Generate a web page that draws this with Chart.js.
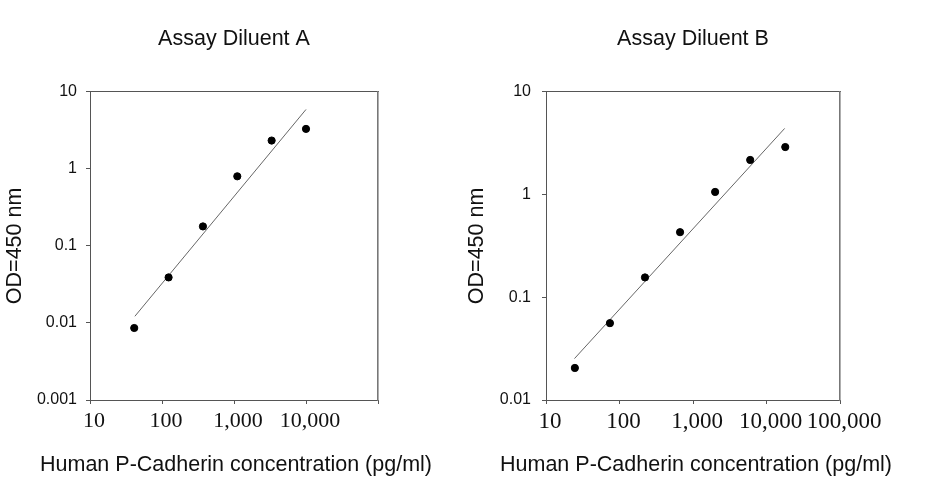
<!DOCTYPE html>
<html>
<head>
<meta charset="utf-8">
<script src="https://cdn.jsdelivr.net/npm/chart.js@4.4.1/dist/chart.umd.min.js"></script>
<style>
html,body{margin:0;padding:0;background:#fff;}
#wrap{position:relative;width:926px;height:480px;overflow:hidden;}
.box{position:absolute;top:0;height:480px;}
</style>
</head>
<body>
<div id="wrap">
  <div class="box" id="boxA" style="left:0;width:472px;"><canvas id="cA"></canvas></div>
  <div class="box" id="boxB" style="left:462px;width:468px;"><canvas id="cB"></canvas></div>
</div>
<script>
// ---- Data ----
const titleA = 'Assay Diluent A';
const titleB = 'Assay Diluent B';
const xTitle = 'Human P-Cadherin concentration (pg/ml)';
const yTitle = 'OD=450 nm';

const concA = [41.15, 123.5, 370.4, 1111, 3333, 10000];
const odA   = [0.0086, 0.039, 0.179, 0.80, 2.33, 3.3];
const fitXA = [42, 10000];
const fitYA = [0.0122, 5.9];

const concB = [24.7, 74.1, 222.2, 666.7, 2000, 6000, 18000];
const odB   = [0.0205, 0.056, 0.156, 0.43, 1.06, 2.17, 2.9];
const fitXB = [24.4, 17660];
const fitYB = [0.0253, 4.4];

const xTickValues = [10, 100, 1000, 10000, 100000];
const xTickLabelsA = ['10', '100', '1,000', '10,000', ''];
const xTickLabelsB = ['10', '100', '1,000', '10,000', '100,000'];
const yTickValuesA = [0.001, 0.01, 0.1, 1, 10];
const yTickLabelsA = ['0.001', '0.01', '0.1', '1', '10'];
const yTickValuesB = [0.01, 0.1, 1, 10];
const yTickLabelsB = ['0.01', '0.1', '1', '10'];

// ---- Chart builder ----
const SANS = "'Liberation Sans', Arial, sans-serif";
const SERIF = "'Liberation Serif', 'Times New Roman', serif";
const AXIS = '#555';

function pts(xs, ys){ return xs.map((x,i)=>({x:x, y:ys[i]})); }

function makeChart(id, cfg){
  const ctx = document.getElementById(id);
  return new Chart(ctx, {
    type: 'scatter',
    data: {
      datasets: [
        { data: pts(cfg.conc, cfg.od), backgroundColor:'#000', borderColor:'#000',
          pointRadius:3.6, pointHoverRadius:3.6, showLine:false, order:1 },
        { data: pts(cfg.fitX, cfg.fitY), borderColor:'#666', borderWidth:1,
          pointRadius:0, showLine:true, fill:false, order:2 }
      ]
    },
    options: {
      responsive:true, maintainAspectRatio:false, animation:false,
      layout:{ padding:0 },
      plugins:{
        legend:{display:false}, tooltip:{enabled:false},
        title:{ display:true, text:cfg.title, fullSize:false, color:'#111',
          font:{family:SANS, size:21.5, weight:'normal', lineHeight:1.2},
          padding:{top:26, bottom:40} },
        subtitle:{ display:true, position:'bottom', text:xTitle, fullSize:true, color:'#111',
          font:{family:SANS, size:21.5, weight:'normal', lineHeight:1.2},
          padding:{top:8, bottom:2} }
      },
      scales:{
        x:{ type:'logarithmic', position:'bottom', min:10, max:100000,
          afterBuildTicks:(s)=>{ s.ticks = xTickValues.map(v=>({value:v})); },
          afterFit:(s)=>{ s.height = 80 - 8 - 2 - 25.8; },
          grid:{ display:true, drawOnChartArea:false, drawTicks:true, tickLength:4, color:AXIS },
          border:{ display:true, color:AXIS, width:1 },
          ticks:{ autoSkip:false, maxRotation:0, padding:4, labelOffset:4, color:'#111',
            font:{family:SERIF, size:cfg.xTickSize},
            callback:(v)=>cfg.xLabels[xTickValues.indexOf(v)] ?? '' }
        },
        y:{ type:'logarithmic', position:'left', min:cfg.yMin, max:10,
          afterBuildTicks:(s)=>{ s.ticks = cfg.yValues.map(v=>({value:v})); },
          afterFit:(s)=>{ s.width = cfg.yWidth; },
          grid:{ display:true, drawOnChartArea:false, drawTicks:true, tickLength:4, color:AXIS },
          border:{ display:true, color:AXIS, width:1 },
          ticks:{ autoSkip:false, padding:cfg.yPad, color:'#111',
            font:{family:SANS, size:16},
            callback:(v)=>cfg.yLabels[cfg.yValues.indexOf(v)] ?? '' },
          title:{ display:true, text:yTitle, color:'#111',
            font:{family:SANS, size:21.5, lineHeight:1.2}, padding:{top:cfg.yTitlePad, bottom:0} }
        },
        x2:{ type:'logarithmic', position:'top', min:10, max:100000,
          grid:{display:false, drawTicks:false}, ticks:{display:false},
          border:{ display:true, color:AXIS, width:1 } },
        y2:{ type:'logarithmic', position:'right', min:cfg.yMin, max:10,
          afterFit:(s)=>{ s.width = cfg.padRight; },
          grid:{display:false, drawTicks:false}, ticks:{display:false},
          border:{ display:true, color:'#777', width:1.6 } }
      }
    }
  });
}

makeChart('cA', { title:titleA, conc:concA, od:odA, fitX:fitXA, fitY:fitYA,
  xLabels:xTickLabelsA, yValues:yTickValuesA, yLabels:yTickLabelsA, yMin:0.001,
  yWidth:90, padRight:94, yPad:9, yTitlePad:2, xTickSize:22 });
makeChart('cB', { title:titleB, conc:concB, od:odB, fitX:fitXB, fitY:fitYB,
  xLabels:xTickLabelsB, yValues:yTickValuesB, yLabels:yTickLabelsB, yMin:0.01,
  yWidth:84, padRight:90, yPad:11, yTitlePad:2, xTickSize:23 });
</script>
</body>
</html>
